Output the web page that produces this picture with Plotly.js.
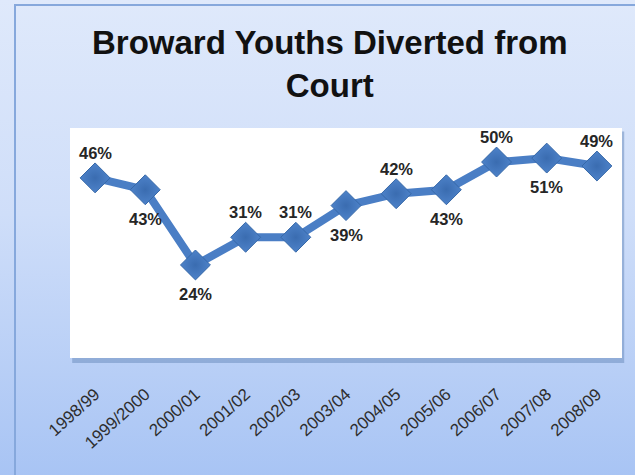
<!DOCTYPE html>
<html>
<head>
<meta charset="utf-8">
<script src="https://cdn.plot.ly/plotly-3.0.1.min.js"></script>
<style>
html,body{margin:0;padding:0;}
body{width:635px;height:475px;overflow:hidden;background:linear-gradient(to bottom,#dfe9fb 0%,#cfdef9 45%,#a8c4f4 100%);}
#chart{width:635px;height:475px;}
</style>
</head>
<body>
<div id="chart"></div>
<script>
const categories = ["1998/99","1999/2000","2000/01","2001/02","2002/03","2003/04","2004/05","2005/06","2006/07","2007/08","2008/09"];
const values = [46, 43, 24, 31, 31, 39, 42, 43, 50, 51, 49];
const labelAbove = [true, false, false, true, true, false, true, false, true, false, true];
const titleText = "Broward Youths Diverted from<br>Court";

const FONT = "Liberation Sans, Arial, sans-serif";

const trace = {
  x: categories,
  y: values,
  type: "scatter",
  mode: "lines+markers",
  line: {color: "#4a7ec5", width: 8},
  marker: {symbol: "diamond", size: 23, color: "#4d82c9", line: {color: "#3668a8", width: 1},
           gradient: {type: "radial", color: "#3a6cb0"}},
  cliponaxis: false,
  hoverinfo: "skip"
};

const labelAnnotations = categories.map((c, i) => ({
  x: c, y: values[i], xref: "x", yref: "y",
  text: values[i] + "%", showarrow: false,
  yshift: labelAbove[i] ? 25 : -29,
  font: {family: FONT, size: 16.5, color: "#262626", weight: "bold"}
}));

const layout = {
  width: 635, height: 475,
  paper_bgcolor: "rgba(0,0,0,0)",
  plot_bgcolor: "rgba(0,0,0,0)",
  margin: {l: 70, r: 13, t: 128, b: 117},
  showlegend: false,
  xaxis: {type: "category", showgrid: false, zeroline: false, showline: false, ticks: "",
          tickangle: -42, ticklabelstandoff: 22, ticklabelshift: 0,
          tickfont: {family: FONT, size: 17, color: "#2e2e2e"},
          range: [-0.5, 10.5]},
  yaxis: {range: [0.5, 58.6], visible: false, showgrid: false, zeroline: false},
  annotations: [
    {text: titleText, xref: "paper", yref: "paper", x: (330-70)/552, y: (358-64)/230,
     xanchor: "center", yanchor: "middle", showarrow: false,
     font: {family: FONT, size: 33, color: "#111111", weight: "bold"}}
  ].concat(labelAnnotations),
  shapes: [
    {type: "rect", xref: "paper", yref: "paper", x0: 0.004, x1: 1.004, y0: -0.022, y1: 0.985, layer: "below",
     fillcolor: "#6f8fbf", line: {width: 0}, opacity: 0.55},
    {type: "rect", xref: "paper", yref: "paper", x0: 0, x1: 1, y0: 0, y1: 1, layer: "below",
     fillcolor: "#ffffff", line: {width: 0}},
    {type: "rect", xref: "paper", yref: "paper", x0: (15-70)/552, x1: (640-70)/552, y0: (358-480)/230, y1: (358-5)/230,
     layer: "below", fillcolor: "rgba(0,0,0,0)", line: {color: "#86a8dc", width: 2}}
  ]
};

Plotly.newPlot("chart", [trace], layout, {displayModeBar: false, staticPlot: true});
</script>
</body>
</html>
